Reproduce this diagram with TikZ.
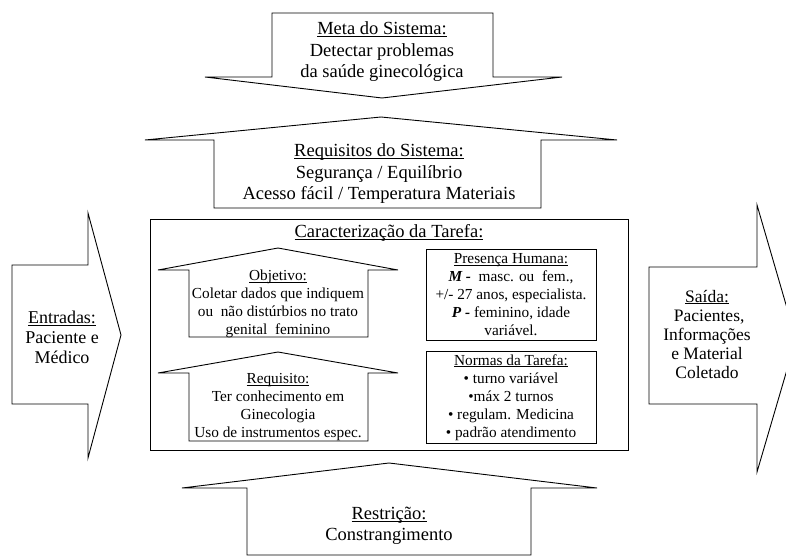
\documentclass[tikz,border=0pt]{standalone}
\usepackage{fontspec}
\setmainfont{Liberation Serif}
\usepackage{tikz}
\usetikzlibrary{positioning}

\newcommand{\ulabel}[1]{\leavevmode\setbox0\hbox{#1}\rlap{\rule[-0.13em]{\wd0}{0.055em}}\box0}

\begin{document}
\begin{tikzpicture}[
    x=1pt, y=-1pt,
    blockarrow/.style={draw, line width=0.9pt, line join=miter},
    box/.style={draw, line width=0.9pt},
    bigtxt/.style={align=center, font=\fontsize{18.5}{21.5}\selectfont},
    midtxt/.style={align=center, font=\fontsize{17.5}{19}\selectfont},
    smalltxt/.style={align=center, font=\fontsize{15.3}{18}\selectfont}
]
\useasboundingbox (0,0) rectangle (786,556);
\clip (0,0) rectangle (786,556);

% Block arrows
\draw[blockarrow] (272,13) -- (493,13) -- (493,77) -- (562,77) -- (382,98) -- (205,77) -- (272,77) -- cycle;
\draw[blockarrow] (381,117) -- (617,140) -- (541,140) -- (541,208) -- (214,208) -- (214,140) -- (145,140) -- cycle;
\draw[blockarrow] (389,463) -- (597,488) -- (531,488) -- (531,555) -- (247,555) -- (247,488) -- (182,488) -- cycle;
\draw[blockarrow] (12,265) -- (88,265) -- (88,213) -- (121,335) -- (88,458) -- (88,404) -- (12,404) -- cycle;
\draw[blockarrow] (649,267) -- (757,267) -- (757,205) -- (796,339) -- (757,472) -- (757,404) -- (649,404) -- cycle;

% Task box
\draw[box] (150,219) rectangle (628,450);
\draw[blockarrow] (278,248) -- (398,270) -- (368,270) -- (368,337) -- (189,337) -- (189,270) -- (158,270) -- cycle;
\draw[blockarrow] (278,352) -- (398,373) -- (368,373) -- (368,441) -- (189,441) -- (189,373) -- (158,373) -- cycle;

% Nodes
\node[bigtxt] (meta) at (382,52) {\ulabel{Meta do Sistema:}\\Detectar problemas\\da saúde ginecológica};
\node[bigtxt] (requisitos) at (379,174) {\ulabel{Requisitos do Sistema:}\\Segurança / Equilíbrio\\Acesso fácil / Temperatura Materiais};
\node[bigtxt] (tarefa) at (389,233) {\ulabel{Caracterização da Tarefa:}};
\node[smalltxt] (objetivo) at (278,304) {\ulabel{Objetivo:}\\Coletar dados que indiquem\\ou\ \ não distúrbios no trato\\genital\ \ feminino};
\node[smalltxt] (requisito) at (278,407) {\ulabel{Requisito:}\\Ter conhecimento em\\Ginecologia\\Uso de instrumentos espec.};
\node[box, smalltxt, minimum width=170, minimum height=91] (presenca) at (511,294.5)
    {\ulabel{Presença Humana:}\\\textbf{\textit{M -}}\ \ masc. ou\ \ fem.,\\+/- 27 anos, especialista.\\\textbf{\textit{P -}} feminino, idade\\variável.};
\node[box, smalltxt, minimum width=170, minimum height=91] (normas) at (511,397.5)
    {\ulabel{Normas da Tarefa:}\\• turno variável\\•máx 2 turnos\\• regulam. Medicina\\• padrão atendimento};
\node[bigtxt] (restricao) at (389,526) {\ulabel{Restrição:}\\Constrangimento};
\node[bigtxt, font=\fontsize{18}{20}\selectfont] (entradas) at (62,337) {\ulabel{Entradas:}\\Paciente e\\Médico};
\node[midtxt] (saida) at (707,334) {\ulabel{Saída:}\\\ Pacientes,\\Informações\\e Material\\Coletado};

\end{tikzpicture}
\end{document}
